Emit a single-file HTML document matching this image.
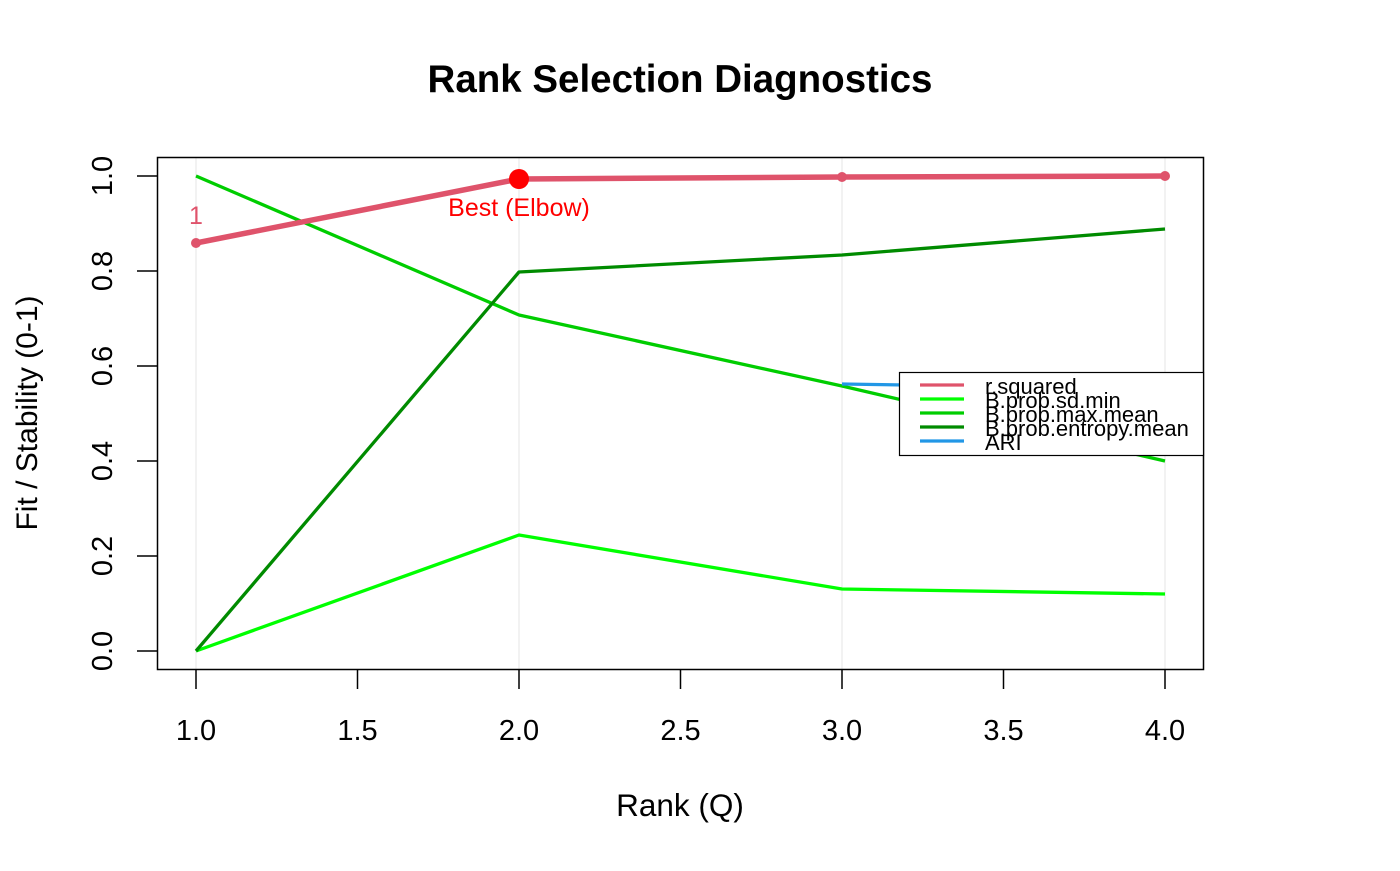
<!DOCTYPE html>
<html><head><meta charset="utf-8"><style>
html,body{margin:0;padding:0;background:#fff;}
svg text{font-family:"Liberation Sans",Arial,sans-serif;}
</style></head><body>
<svg width="1400" height="866" viewBox="0 0 1400 866" xmlns="http://www.w3.org/2000/svg">
<rect width="1400" height="866" fill="#fff"/>
<text x="680" y="92" font-size="38.5" font-weight="bold" text-anchor="middle">Rank Selection Diagnostics</text>
<g stroke="#e6e6e6" stroke-width="1">
<line x1="196" y1="158" x2="196" y2="669"/><line x1="519" y1="158" x2="519" y2="669"/>
<line x1="842" y1="158" x2="842" y2="669"/><line x1="1165" y1="158" x2="1165" y2="669"/>
</g>
<g fill="none" stroke-width="3.3" stroke-linejoin="round">
<polyline points="196,651 519,535 842,589 1165,594" stroke="#00FF00"/>
<polyline points="196,176 519,315 842,386 1165,461" stroke="#00CD00"/>
<polyline points="196,651 519,272 842,255 1165,229" stroke="#008B00"/>
<polyline points="842,384 905,385" stroke="#2297E6"/>
<polyline points="196,243 519,179 842,177 1165,176" stroke="#DF536B" stroke-width="5.5"/>
</g>
<g fill="#DF536B"><circle cx="196" cy="243" r="5"/><circle cx="842" cy="177" r="5"/><circle cx="1165" cy="176" r="5"/></g>
<circle cx="519" cy="179" r="10" fill="#FF0000"/>
<text x="196" y="224" font-size="25" fill="#DF536B" text-anchor="middle">1</text>
<text x="519" y="216" font-size="25" fill="#FF0000" text-anchor="middle">Best (Elbow)</text>
<rect x="157.5" y="157.5" width="1046" height="512" fill="none" stroke="#000" stroke-width="1.5"/>
<g stroke="#000" stroke-width="1.5">
<line x1="137" y1="651" x2="157" y2="651"/><line x1="137" y1="556" x2="157" y2="556"/>
<line x1="137" y1="461" x2="157" y2="461"/><line x1="137" y1="366" x2="157" y2="366"/>
<line x1="137" y1="271" x2="157" y2="271"/><line x1="137" y1="176" x2="157" y2="176"/>
<line x1="196" y1="670" x2="196" y2="689"/><line x1="357.5" y1="670" x2="357.5" y2="689"/>
<line x1="519" y1="670" x2="519" y2="689"/><line x1="680.5" y1="670" x2="680.5" y2="689"/>
<line x1="842" y1="670" x2="842" y2="689"/><line x1="1003.5" y1="670" x2="1003.5" y2="689"/>
<line x1="1165" y1="670" x2="1165" y2="689"/>
</g>
<g font-size="29" text-anchor="middle">
<text transform="translate(112,651) rotate(-90)">0.0</text>
<text transform="translate(112,556) rotate(-90)">0.2</text>
<text transform="translate(112,461) rotate(-90)">0.4</text>
<text transform="translate(112,366) rotate(-90)">0.6</text>
<text transform="translate(112,271) rotate(-90)">0.8</text>
<text transform="translate(112,176) rotate(-90)">1.0</text>
<text x="196" y="740">1.0</text><text x="357.5" y="740">1.5</text>
<text x="519" y="740">2.0</text><text x="680.5" y="740">2.5</text>
<text x="842" y="740">3.0</text><text x="1003.5" y="740">3.5</text>
<text x="1165" y="740">4.0</text>
<text x="680" y="816" font-size="31.5">Rank (Q)</text>
<text transform="translate(37,413) rotate(-90)" font-size="30">Fit / Stability (0-1)</text>
</g>
<rect x="899.5" y="372.5" width="304" height="83" fill="#fff" stroke="#000" stroke-width="1.2"/>
<g stroke-width="3.3">
<line x1="920" y1="385" x2="964" y2="385" stroke="#DF536B"/>
<line x1="920" y1="399" x2="964" y2="399" stroke="#00FF00"/>
<line x1="920" y1="413" x2="964" y2="413" stroke="#00CD00"/>
<line x1="920" y1="427" x2="964" y2="427" stroke="#008B00"/>
<line x1="920" y1="441" x2="964" y2="441" stroke="#2297E6"/>
</g>
<g font-size="22">
<text x="985" y="394">r.squared</text>
<text x="985" y="408">B.prob.sd.min</text>
<text x="985" y="422">B.prob.max.mean</text>
<text x="985" y="436">B.prob.entropy.mean</text>
<text x="985" y="450">ARI</text>
</g>
</svg>
</body></html>
